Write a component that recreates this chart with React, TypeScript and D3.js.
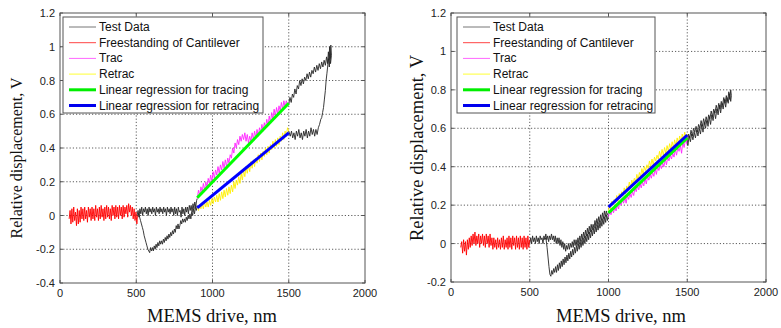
import React from "react";
import * as d3 from "d3";

type P = [number, number];

// ---------- tick values ----------
const xTicks = [0, 500, 1000, 1500, 2000];
const leftYTicks = [-0.4, -0.2, 0, 0.2, 0.4, 0.6, 0.8, 1, 1.2];
const rightYTicks = [-0.2, 0, 0.2, 0.4, 0.6, 0.8, 1, 1.2];

const legendNames = [
  "Test Data",
  "Freestanding of Cantilever",
  "Trac",
  "Retrac",
  "Linear regression for tracing",
  "Linear regression for retracing",
];
const legendColors = ["#777777", "#ff4444", "#ff66ff", "#ffff33", "#00ee00", "#0000ee"];

// ---------- LEFT PANEL DATA ----------
const leftRed: P[] = [
  [60,-0.02],[66,0.03],[72,-0.05],[78,0.04],[84,-0.04],[90,0.05],[96,-0.03],[102,0.02],[108,-0.06],[114,0.04],
  [120,-0.05],[126,0.03],[132,-0.04],[138,0.05],[144,-0.02],[150,0.04],[156,-0.03],[162,0.05],[168,-0.02],[174,0.03],
  [180,-0.04],[186,0.05],[192,-0.01],[198,0.04],[204,-0.03],[210,0.05],[216,-0.02],[222,0.04],[228,-0.03],[234,0.06],
  [240,-0.01],[246,0.04],[252,-0.03],[258,0.05],[264,-0.02],[270,0.06],[276,-0.01],[282,0.04],[288,-0.03],[294,0.05],
  [300,-0.02],[306,0.06],[312,-0.01],[318,0.05],[324,-0.02],[330,0.04],[336,-0.03],[342,0.06],[348,0.0],[354,0.05],
  [360,-0.02],[366,0.06],[372,-0.01],[378,0.05],[384,-0.02],[390,0.06],[396,0.0],[402,0.05],[408,-0.02],[414,0.06],
  [420,-0.01],[426,0.05],[432,0.01],[438,0.06],[444,-0.01],[450,0.07],[456,0.02],[462,0.06],[468,0.0],[474,0.05],
  [480,-0.02],[486,0.04],[492,-0.03],[498,0.02],[504,-0.05],[508,0.0],
];

const leftTestUpper: P[] = [
  [505,0.0],[512,0.03],[518,-0.01],[524,0.04],[530,0.01],[536,0.05],[542,0.0],[548,0.04],[554,0.02],[560,0.05],
  [566,0.01],[572,0.04],[578,0.0],[584,0.05],[590,0.02],[596,0.04],[602,0.01],[608,0.05],[614,0.02],[620,0.04],
  [626,0.0],[632,0.05],[638,0.02],[644,0.04],[650,0.01],[656,0.05],[662,0.02],[668,0.04],[674,0.01],[680,0.05],
  [686,0.02],[692,0.04],[698,0.0],[704,0.05],[710,0.02],[716,0.04],[722,0.01],[728,0.05],[734,0.02],[740,0.04],
  [746,0.0],[752,0.05],[758,0.01],[764,0.04],[770,0.0],[776,0.05],[782,0.02],[788,0.03],[794,-0.01],[800,0.05],
  [806,0.01],[812,0.04],[818,0.0],[824,0.05],[830,0.02],[836,0.05],[842,0.01],[848,0.06],[854,0.03],[860,0.06],
  [866,0.02],[872,0.07],[878,0.04],[884,0.08],[890,0.05],[896,0.09],[900,0.1],
];

const leftTrac: P[] = [
  [900,0.1],[908,0.15],[916,0.12],[924,0.17],[932,0.14],[940,0.19],[948,0.15],[956,0.2],[964,0.17],[972,0.22],
  [980,0.19],[988,0.24],[996,0.2],[1004,0.26],[1012,0.22],[1020,0.27],[1028,0.24],[1036,0.29],[1044,0.25],[1052,0.3],
  [1060,0.27],[1068,0.32],[1076,0.28],[1084,0.33],[1092,0.29],[1100,0.34],[1108,0.31],[1116,0.36],[1124,0.34],[1132,0.4],
  [1140,0.37],[1148,0.43],[1156,0.4],[1164,0.45],[1172,0.42],[1180,0.47],[1188,0.44],[1196,0.48],[1204,0.45],[1212,0.49],
  [1220,0.44],[1228,0.48],[1236,0.43],[1244,0.47],[1252,0.44],[1260,0.49],[1268,0.45],[1276,0.5],[1284,0.46],[1292,0.51],
  [1300,0.47],[1308,0.52],[1316,0.49],[1324,0.54],[1332,0.5],[1340,0.55],[1348,0.52],[1356,0.57],[1364,0.53],[1372,0.59],
  [1380,0.55],[1388,0.61],[1396,0.57],[1404,0.63],[1412,0.59],[1420,0.64],[1428,0.6],[1436,0.65],[1444,0.62],[1452,0.67],
  [1460,0.63],[1468,0.68],[1476,0.64],[1484,0.68],[1492,0.65],[1500,0.67],
];

const leftTestTop: P[] = [
  [1500,0.66],[1508,0.7],[1516,0.67],[1524,0.72],[1532,0.7],[1540,0.75],[1548,0.72],[1556,0.77],[1564,0.75],[1572,0.8],
  [1580,0.77],[1588,0.81],[1596,0.78],[1604,0.82],[1612,0.8],[1620,0.84],[1628,0.81],[1636,0.85],[1644,0.82],[1652,0.86],
  [1660,0.84],[1668,0.88],[1676,0.85],[1684,0.89],[1692,0.86],[1700,0.9],[1708,0.87],[1716,0.91],[1724,0.88],[1732,0.92],
  [1740,0.89],[1748,0.94],[1754,0.9],[1760,0.97],[1764,0.92],[1768,1.0],[1772,0.93],[1776,1.01],[1780,0.95],[1774,0.9],
  [1770,0.96],[1766,0.88],[1760,0.93],[1755,0.88],[1750,0.84],[1745,0.8],[1740,0.74],[1734,0.69],[1728,0.64],[1722,0.61],
  [1716,0.58],[1710,0.57],[1702,0.54],[1694,0.52],[1686,0.48],[1678,0.51],[1670,0.47],[1662,0.51],[1654,0.48],[1646,0.52],
  [1638,0.47],[1630,0.5],[1622,0.46],[1614,0.51],[1606,0.47],[1598,0.5],[1590,0.45],[1582,0.49],[1574,0.46],[1566,0.51],
  [1558,0.47],[1550,0.5],[1542,0.45],[1534,0.49],[1526,0.46],[1518,0.5],[1510,0.47],[1500,0.5],
];

const leftRetrac: P[] = [
  [1500,0.5],[1492,0.52],[1484,0.47],[1476,0.5],[1468,0.45],[1460,0.49],[1452,0.44],[1444,0.47],[1436,0.42],[1428,0.46],
  [1420,0.41],[1412,0.45],[1404,0.4],[1396,0.44],[1388,0.39],[1380,0.42],[1372,0.37],[1364,0.41],[1356,0.36],[1348,0.4],
  [1340,0.35],[1332,0.38],[1324,0.33],[1316,0.37],[1308,0.32],[1300,0.36],[1292,0.31],[1284,0.34],[1276,0.29],[1268,0.33],
  [1260,0.28],[1252,0.32],[1244,0.26],[1236,0.3],[1228,0.25],[1220,0.29],[1212,0.23],[1204,0.27],[1196,0.21],[1188,0.25],
  [1180,0.19],[1172,0.23],[1164,0.18],[1156,0.21],[1148,0.16],[1140,0.2],[1132,0.14],[1124,0.18],[1116,0.13],[1108,0.17],
  [1100,0.12],[1092,0.16],[1084,0.11],[1076,0.15],[1068,0.1],[1060,0.14],[1052,0.09],[1044,0.13],[1036,0.08],[1028,0.12],
  [1020,0.08],[1012,0.11],[1004,0.07],[996,0.1],[988,0.06],[980,0.09],[972,0.05],[964,0.08],[956,0.05],[948,0.08],
  [940,0.04],[932,0.07],[924,0.04],[916,0.06],[908,0.03],[900,0.05],
];

const leftTestLower: P[] = [
  [900,0.06],[894,0.03],[888,0.05],[882,0.01],[876,0.04],[870,0.0],[864,0.02],[858,-0.02],[852,0.01],[846,-0.02],
  [840,0.0],[834,-0.03],[828,-0.01],[822,-0.04],[816,-0.02],[810,-0.04],[804,-0.02],[798,-0.05],[792,-0.03],[786,-0.06],
  [780,-0.08],[774,-0.05],[768,-0.08],[762,-0.06],[756,-0.1],[750,-0.08],[744,-0.11],[738,-0.09],[732,-0.12],[726,-0.1],
  [720,-0.13],[714,-0.11],[708,-0.14],[702,-0.12],[696,-0.15],[690,-0.13],[684,-0.16],[678,-0.14],[672,-0.17],[666,-0.15],
  [660,-0.17],[654,-0.15],[648,-0.18],[642,-0.16],[636,-0.19],[630,-0.17],[624,-0.2],[618,-0.18],[612,-0.21],[606,-0.19],
  [600,-0.21],[594,-0.19],[588,-0.22],[582,-0.21],[576,-0.2],[570,-0.18],[564,-0.16],[558,-0.14],[552,-0.12],[546,-0.09],
  [540,-0.07],[534,-0.05],[528,-0.03],[522,-0.01],[516,0.01],[510,0.0],
];

const leftFitTrac: P[] = [[900, 0.105], [1500, 0.665]];
const leftFitRetrac: P[] = [[900, 0.045], [1500, 0.49]];

// ---------- RIGHT PANEL DATA ----------
const rightRed: P[] = [
  [62,-0.02],[68,0.01],[74,-0.05],[80,0.02],[86,-0.04],[92,0.01],[98,-0.06],[104,0.02],[110,-0.03],[116,0.03],
  [122,-0.02],[128,0.04],[134,-0.01],[140,0.05],[146,0.0],[152,0.06],[158,-0.01],[164,0.04],[170,0.0],[176,0.05],
  [182,-0.02],[188,0.04],[194,0.0],[200,0.05],[206,-0.01],[212,0.04],[218,-0.02],[224,0.05],[230,0.0],[236,0.04],
  [242,-0.02],[248,0.05],[254,-0.01],[260,0.03],[266,-0.03],[272,0.03],[278,-0.02],[284,0.02],[290,-0.03],[296,0.03],
  [302,-0.02],[308,0.02],[314,-0.03],[320,0.03],[326,-0.02],[332,0.04],[338,-0.03],[344,0.02],[350,-0.02],[356,0.03],
  [362,-0.03],[368,0.04],[374,-0.02],[380,0.03],[386,-0.03],[392,0.04],[398,-0.01],[404,0.03],[410,-0.03],[416,0.04],
  [422,-0.02],[428,0.03],[434,-0.03],[440,0.04],[446,-0.02],[452,0.03],[458,-0.03],[464,0.04],[470,-0.02],[476,0.03],
  [482,-0.03],[488,0.04],[494,-0.02],[500,0.02],
];

const rightTestUpper: P[] = [
  [500,0.0],[506,0.03],[512,0.0],[518,0.04],[524,0.01],[530,0.03],[536,0.0],[542,0.04],[548,0.01],[554,0.03],
  [560,0.0],[566,0.04],[572,0.02],[578,0.03],[584,0.0],[590,0.04],[596,0.02],[602,0.05],[608,0.02],[614,0.04],
  [620,0.01],[626,0.04],[632,0.02],[638,0.05],[644,0.02],[650,0.04],[656,0.01],[662,0.04],[668,0.0],[674,0.03],
  [680,0.0],[686,0.03],[692,-0.01],[698,0.02],[704,-0.02],[710,0.01],[716,-0.03],[722,0.0],[728,-0.04],[734,-0.01],
  [740,-0.03],[746,0.0],[752,-0.03],[758,0.0],[764,-0.02],[770,0.01],[776,-0.02],[782,0.02],[788,-0.01],[794,0.02],
  [800,-0.01],[806,0.03],[812,0.0],[818,0.04],[824,0.01],[830,0.05],[836,0.02],[842,0.06],[848,0.03],[854,0.07],
  [860,0.04],[866,0.08],[872,0.05],[878,0.09],[884,0.06],[890,0.1],[896,0.07],[902,0.1],[908,0.08],[914,0.12],
  [920,0.09],[926,0.13],[932,0.1],[938,0.14],[944,0.11],[950,0.15],[956,0.12],[962,0.16],[968,0.13],[974,0.17],
  [980,0.14],[986,0.17],[992,0.15],[1000,0.16],
];

const rightTrac: P[] = [
  [1000,0.14],[1008,0.17],[1016,0.15],[1024,0.18],[1032,0.16],[1040,0.19],[1048,0.17],[1056,0.2],[1064,0.18],[1072,0.22],
  [1080,0.2],[1088,0.23],[1096,0.21],[1104,0.24],[1112,0.21],[1120,0.25],[1128,0.23],[1136,0.26],[1144,0.24],[1152,0.27],
  [1160,0.25],[1168,0.29],[1176,0.27],[1184,0.3],[1192,0.28],[1200,0.31],[1208,0.29],[1216,0.32],[1224,0.3],[1232,0.34],
  [1240,0.31],[1248,0.35],[1256,0.33],[1264,0.36],[1272,0.34],[1280,0.37],[1288,0.35],[1296,0.39],[1304,0.36],[1312,0.4],
  [1320,0.38],[1328,0.41],[1336,0.39],[1344,0.42],[1352,0.4],[1360,0.44],[1368,0.41],[1376,0.45],[1384,0.43],[1392,0.46],
  [1400,0.44],[1408,0.47],[1416,0.45],[1424,0.49],[1432,0.46],[1440,0.5],[1448,0.48],[1456,0.51],[1464,0.47],[1472,0.53],
  [1480,0.5],[1488,0.54],[1496,0.52],[1500,0.55],
];

const rightTestTop: P[] = [
  [1500,0.53],[1508,0.57],[1516,0.55],[1524,0.59],[1532,0.56],[1540,0.6],[1548,0.58],[1556,0.61],[1564,0.58],[1572,0.62],
  [1580,0.6],[1588,0.64],[1596,0.61],[1604,0.65],[1612,0.62],[1620,0.66],[1628,0.63],[1636,0.67],[1644,0.65],[1652,0.69],
  [1660,0.66],[1668,0.7],[1676,0.68],[1684,0.72],[1692,0.69],[1700,0.73],[1708,0.7],[1716,0.74],[1724,0.72],[1732,0.76],
  [1740,0.73],[1748,0.77],[1756,0.74],[1764,0.79],[1770,0.75],[1776,0.8],[1780,0.77],[1776,0.74],[1768,0.78],[1760,0.73],
  [1752,0.76],[1744,0.71],[1736,0.75],[1728,0.7],[1720,0.73],[1712,0.68],[1704,0.72],[1696,0.67],[1688,0.7],[1680,0.65],
  [1672,0.69],[1664,0.64],[1656,0.67],[1648,0.62],[1640,0.66],[1632,0.61],[1624,0.64],[1616,0.6],[1608,0.63],[1600,0.58],
  [1592,0.62],[1584,0.57],[1576,0.6],[1568,0.56],[1560,0.59],[1552,0.55],[1544,0.58],[1536,0.54],[1528,0.57],[1520,0.53],
  [1512,0.56],[1504,0.51],[1500,0.54],
];

const rightRetrac: P[] = [
  [1500,0.57],[1492,0.55],[1484,0.58],[1476,0.54],[1468,0.57],[1460,0.53],[1452,0.56],[1444,0.52],[1436,0.55],[1428,0.51],
  [1420,0.54],[1412,0.5],[1404,0.53],[1396,0.49],[1388,0.52],[1380,0.48],[1372,0.51],[1364,0.47],[1356,0.5],[1348,0.46],
  [1340,0.49],[1332,0.45],[1324,0.48],[1316,0.44],[1308,0.46],[1300,0.43],[1292,0.45],[1284,0.41],[1276,0.44],[1268,0.4],
  [1260,0.43],[1252,0.39],[1244,0.41],[1236,0.38],[1228,0.4],[1220,0.36],[1212,0.39],[1204,0.35],[1196,0.37],[1188,0.33],
  [1180,0.36],[1172,0.32],[1164,0.34],[1156,0.31],[1148,0.33],[1140,0.29],[1132,0.32],[1124,0.28],[1116,0.3],[1108,0.26],
  [1100,0.29],[1092,0.25],[1084,0.27],[1076,0.24],[1068,0.26],[1060,0.22],[1052,0.25],[1044,0.21],[1036,0.23],[1028,0.2],
  [1020,0.22],[1012,0.18],[1004,0.2],[1000,0.17],
];

const rightTestLower: P[] = [
  [1000,0.15],[994,0.12],[988,0.15],[982,0.11],[976,0.14],[970,0.1],[964,0.13],[958,0.09],[952,0.12],[946,0.08],
  [940,0.11],[934,0.07],[928,0.1],[922,0.06],[916,0.09],[910,0.05],[904,0.08],[898,0.04],[892,0.07],[886,0.03],
  [880,0.06],[874,0.02],[868,0.05],[862,0.01],[856,0.04],[850,0.0],[844,0.03],[838,-0.01],[832,0.02],[826,-0.02],
  [820,0.01],[814,-0.03],[808,0.0],[802,-0.04],[796,-0.01],[790,-0.05],[784,-0.02],[778,-0.06],[772,-0.03],[766,-0.07],
  [760,-0.04],[754,-0.08],[748,-0.05],[742,-0.09],[736,-0.06],[730,-0.1],[724,-0.07],[718,-0.11],[712,-0.08],[706,-0.12],
  [700,-0.09],[694,-0.13],[688,-0.1],[682,-0.14],[676,-0.11],[670,-0.15],[664,-0.12],[658,-0.15],[652,-0.13],[646,-0.16],
  [640,-0.14],[634,-0.17],[628,-0.16],[622,-0.12],[616,-0.07],[610,-0.02],[604,0.02],[598,0.03],
];

const rightFitTrac: P[] = [[1000, 0.16], [1500, 0.55]];
const rightFitRetrac: P[] = [[1000, 0.19], [1500, 0.565]];

// ---------- panel component ----------
type PanelProps = {
  left: number; right: number; top: number; bottom: number;
  yDomain: [number, number]; yTicks: number[];
  testSegs: P[][]; red: P[]; trac: P[]; retrac: P[]; fitT: P[]; fitR: P[];
  legend: { x: number; y: number; w: number; h: number };
  xLabelX: number; yLabelX: number; yLabelY: number; yLabelSize: number;
};

const SANS = "'Liberation Sans', Arial, sans-serif";
const SERIF = "'Liberation Serif', 'Times New Roman', serif";

function Panel(p: PanelProps) {
  const x = d3.scaleLinear().domain([0, 2000]).range([p.left, p.right]);
  const y = d3.scaleLinear().domain(p.yDomain).range([p.bottom, p.top]);
  const line = d3.line<P>().x((d) => x(d[0])).y((d) => y(d[1]));
  const box = "#555";
  const fmt = (v: number) => String(Math.round(v * 10) / 10);
  const lg = p.legend;
  const rowY = (i: number) => lg.y + 10 + i * 15.7;
  return (
    <g>
      {xTicks.slice(1, -1).map((t) => (
        <line key={"gx" + t} x1={x(t)} x2={x(t)} y1={p.top} y2={p.bottom}
          stroke="#333" strokeWidth={0.8} strokeDasharray="1.2,2" />
      ))}
      {p.yTicks.slice(1, -1).map((t) => (
        <line key={"gy" + t} x1={p.left} x2={p.right} y1={y(t)} y2={y(t)}
          stroke="#333" strokeWidth={0.8} strokeDasharray="1.2,2" />
      ))}
      {p.testSegs.map((s, i) => (
        <path key={"t" + i} d={line(s) || ""} fill="none" stroke="#262626" strokeWidth={0.9} />
      ))}
      <path d={line(p.red) || ""} fill="none" stroke="#ff0000" strokeWidth={0.9} />
      <path d={line(p.trac) || ""} fill="none" stroke="#ff22ff" strokeWidth={0.9} />
      <path d={line(p.retrac) || ""} fill="none" stroke="#ffee00" strokeWidth={0.9} />
      <path d={line(p.fitT) || ""} fill="none" stroke="#00ff00" strokeWidth={3} />
      <path d={line(p.fitR) || ""} fill="none" stroke="#0000ff" strokeWidth={3} />
      <rect x={p.left} y={p.top} width={p.right - p.left} height={p.bottom - p.top}
        fill="none" stroke={box} strokeWidth={1} />
      {xTicks.map((t) => (
        <g key={"tx" + t}>
          <line x1={x(t)} x2={x(t)} y1={p.bottom} y2={p.bottom - 3} stroke={box} />
          <line x1={x(t)} x2={x(t)} y1={p.top} y2={p.top + 3} stroke={box} />
          <text x={x(t)} y={p.bottom + 14} textAnchor="middle" fontSize={11} fontFamily={SANS} fill="#222">{t}</text>
        </g>
      ))}
      {p.yTicks.map((t) => (
        <g key={"ty" + t}>
          <line x1={p.left} x2={p.left + 3} y1={y(t)} y2={y(t)} stroke={box} />
          <line x1={p.right} x2={p.right - 3} y1={y(t)} y2={y(t)} stroke={box} />
          <text x={p.left - 5} y={y(t) + 4} textAnchor="end" fontSize={11} fontFamily={SANS} fill="#222">{fmt(t)}</text>
        </g>
      ))}
      <rect x={lg.x} y={lg.y} width={lg.w} height={lg.h} fill="#fff" stroke={box} strokeWidth={1} />
      {legendNames.map((n, i) => (
        <g key={n}>
          <line x1={lg.x + 6} x2={lg.x + 33} y1={rowY(i)} y2={rowY(i)}
            stroke={legendColors[i]} strokeWidth={i >= 4 ? 3 : 1} />
          <text x={lg.x + 36} y={rowY(i) + 4} fontSize={12} fontFamily={SANS} fill="#111">{n}</text>
        </g>
      ))}
      <text x={p.xLabelX} y={322} textAnchor="middle" fontSize={18.5} fontFamily={SERIF} fill="#111">MEMS drive, nm</text>
      <text transform={`translate(${p.yLabelX},${p.yLabelY}) rotate(-90)`} textAnchor="middle"
        fontSize={p.yLabelSize} fontFamily={SERIF} fill="#111">Relative displacement, V</text>
    </g>
  );
}

export default function App() {
  return (
    <svg width={781} height={328} viewBox="0 0 781 328"
      style={{ position: "absolute", left: 0, top: 0, background: "#fff" }}>
      <rect width={781} height={328} fill="#fff" />
      <Panel left={60} right={365} top={13} bottom={283}
        yDomain={[-0.4, 1.2]} yTicks={leftYTicks}
        testSegs={[leftTestUpper, leftTestTop, leftTestLower]}
        red={leftRed} trac={leftTrac} retrac={leftRetrac}
        fitT={leftFitTrac} fitR={leftFitRetrac}
        legend={{ x: 63, y: 17, w: 200, h: 96 }}
        xLabelX={212} yLabelX={22} yLabelY={158} yLabelSize={16} />
      <Panel left={451} right={766} top={13} bottom={282}
        yDomain={[-0.2, 1.2]} yTicks={rightYTicks}
        testSegs={[rightTestUpper, rightTestTop, rightTestLower]}
        red={rightRed} trac={rightTrac} retrac={rightRetrac}
        fitT={rightFitTrac} fitR={rightFitRetrac}
        legend={{ x: 457, y: 17, w: 198, h: 96 }}
        xLabelX={621} yLabelX={423} yLabelY={148} yLabelSize={18.5} />
    </svg>
  );
}
